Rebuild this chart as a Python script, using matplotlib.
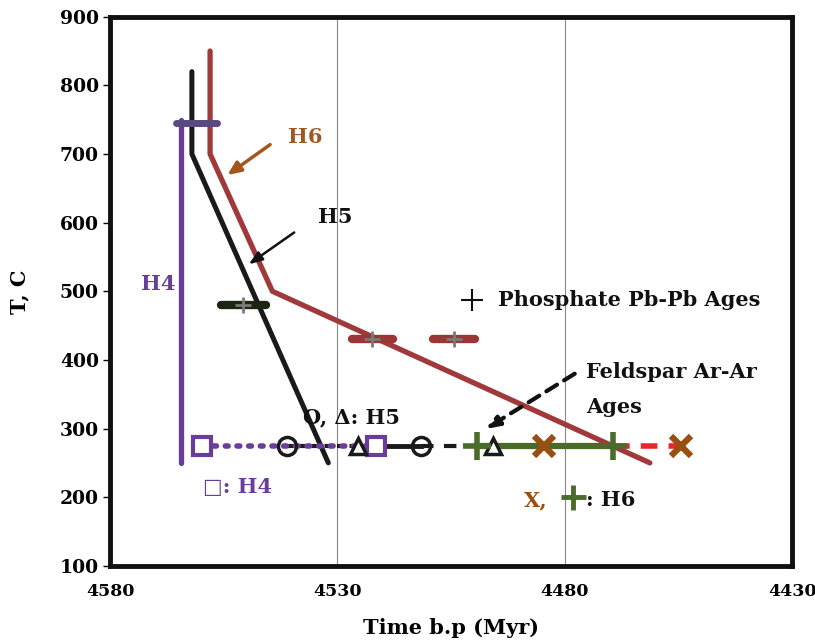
import matplotlib
matplotlib.use("Agg")
import matplotlib.pyplot as plt

plt.rcParams['font.family'] = ['DejaVu Serif', 'DejaVu Sans']
plt.rcParams['font.weight'] = 'bold'

# Cooling paths (time b.p. in Myr, temperature in C)
h4_time = [4564.4, 4564.4]
h4_temp = [750, 250]
h5_time = [4562, 4562, 4532]
h5_temp = [820, 700, 250]
h6_time = [4558, 4558, 4544.3, 4461.3]
h6_temp = [850, 700, 500, 250]

# H4 high-temperature age bar
h4_bar_time = 4561
h4_bar_err = 4.6
h4_bar_temp = 745

# Phosphate Pb-Pb ages
pb_time = [4550.7, 4522.3, 4504.4]
pb_err = [5.0, 4.5, 4.6]
pb_temp = [480, 430, 430]
pb_colors = ['#1c2412', '#9c3535', '#9c3535']

# Feldspar Ar-Ar ages
ar_temp = 275
h4_sq_time = [4559.7, 4521.6]
h5_circ_time = [4541.0, 4511.7]
h5_tri_time = [4525.4, 4495.8]
h6_plus_time = [4499.2, 4469.4]
h6_x_time = [4484.6, 4454.4]

C_PURPLE = '#6a3d9a'
C_BAR = '#5a4a82'
C_H6 = '#a03a3a'
C_GREEN = '#4b6b2a'
C_XBROWN = '#9a4f12'
C_RED = '#e8262c'
C_TXT6 = '#a3561e'
C_INK = '#111111'

FS = 15

fig = plt.figure(figsize=(8.15, 6.43), dpi=100)
ax = fig.add_axes([0.135, 0.12, 0.837, 0.854])

ax.set_xlim(4580, 4430)
ax.set_ylim(100, 900)
ax.set_xticks([4580, 4530, 4480, 4430])
ax.set_yticks(range(100, 1000, 100))
for xv in [4530, 4480]:
    ax.axvline(xv, color='#888888', lw=0.8, zorder=0)
for s in ax.spines.values():
    s.set_linewidth(3.5)
    s.set_color(C_INK)
ax.tick_params(axis='y', direction='out', length=5, width=1, labelsize=13.5, pad=3)
ax.tick_params(axis='x', length=0, labelsize=12.5, pad=12)
for lab in ax.get_xticklabels() + ax.get_yticklabels():
    lab.set_fontweight('bold')
ax.set_ylabel('T, C', fontsize=FS, fontweight='bold')
ax.yaxis.set_label_coords(-0.118, 0.5)
ax.set_xlabel('Time b.p (Myr)', fontsize=FS, fontweight='bold', labelpad=13)

# Cooling curves
ax.plot(h4_time, h4_temp, color=C_PURPLE, lw=3.8, solid_capstyle='round', zorder=3)
ax.plot(h5_time, h5_temp, color='#1a1a1a', lw=3.6, solid_capstyle='round', zorder=3)
ax.plot(h6_time, h6_temp, color=C_H6, lw=3.8, solid_capstyle='round', zorder=3)

# H4 age bar
ax.plot([h4_bar_time - h4_bar_err, h4_bar_time + h4_bar_err], [h4_bar_temp] * 2,
        color=C_BAR, lw=5, solid_capstyle='round', zorder=4)

# Phosphate ages
for t, e, T, c in zip(pb_time, pb_err, pb_temp, pb_colors):
    ax.plot([t - e, t + e], [T, T], color=c, lw=6, solid_capstyle='round', zorder=4)
    ax.plot(t, T, marker='+', ms=12, mew=2, color='#7a7a7a', zorder=5)

# Feldspar ages: connecting lines
ax.plot([h4_sq_time[0], h4_sq_time[1]], [ar_temp] * 2, color=C_PURPLE, lw=4,
        ls=(0, (0.5, 1.6)), dash_capstyle='round', zorder=5)
ax.plot([h5_circ_time[0], h4_sq_time[1]], [ar_temp] * 2, color='#1a1a1a', lw=3,
        ls=(0, (1.5, 1.5)), zorder=4)
ax.plot([h4_sq_time[1], h5_circ_time[1]], [ar_temp] * 2, color='#1a1a1a', lw=3.5, zorder=4)
ax.plot([h5_circ_time[1], h6_plus_time[0]], [ar_temp] * 2, color='#1a1a1a', lw=3,
        ls=(0, (3, 2.5)), zorder=4)
ax.plot(h6_plus_time, [ar_temp] * 2, color=C_GREEN, lw=4.5, zorder=4)
ax.plot([h6_plus_time[1], h6_x_time[1]], [ar_temp] * 2, color=C_RED, lw=4,
        ls=(0, (3, 2)), zorder=4)

# Feldspar ages: markers
ax.plot(h4_sq_time, [ar_temp] * 2, ls='none', marker='s', ms=13, mfc='white',
        mec=C_PURPLE, mew=3, zorder=6)
ax.plot(h5_circ_time, [ar_temp] * 2, ls='none', marker='o', ms=13, mfc='none',
        mec='#1a1a1a', mew=2.5, zorder=6)
ax.plot(h5_tri_time, [ar_temp] * 2, ls='none', marker='^', ms=12, mfc='white',
        mec='#1a1a1a', mew=2.5, zorder=6)
ax.plot(h6_plus_time, [ar_temp] * 2, ls='none', marker='+', ms=20, mew=4,
        color=C_GREEN, zorder=6)
ax.plot(h6_x_time, [ar_temp] * 2, ls='none', marker='x', ms=15, mew=4.5,
        color=C_XBROWN, zorder=6)

# Labels and arrows
ax.text(4537.0, 725, 'H6', color=C_TXT6, fontsize=FS, fontweight='bold', va='center', ha='center')
ax.annotate('', xy=(4554.7, 667), xytext=(4544.3, 716),
            arrowprops=dict(arrowstyle='-|>,head_length=0.8,head_width=0.35', color=C_TXT6, lw=2.5))
ax.text(4530.4, 608, 'H5', color=C_INK, fontsize=FS, fontweight='bold', va='center', ha='center')
ax.annotate('', xy=(4550, 537), xytext=(4539, 588),
            arrowprops=dict(arrowstyle='-|>,head_length=0.8,head_width=0.3', color=C_INK, lw=1.8))
ax.text(4569.4, 511, 'H4', color=C_PURPLE, fontsize=FS, fontweight='bold', va='center', ha='center')

ax.plot(4500.3, 487, marker='+', ms=16, mew=1.5, color=C_INK)
ax.text(4494.7, 487, 'Phosphate Pb-Pb Ages', color=C_INK, fontsize=FS,
        fontweight='bold', va='center', ha='left')

ax.text(4475.4, 383, 'Feldspar Ar-Ar', color=C_INK, fontsize=FS,
        fontweight='bold', va='center', ha='left')
ax.text(4475.4, 331, 'Ages', color=C_INK, fontsize=FS,
        fontweight='bold', va='center', ha='left')
ax.annotate('', xy=(4498, 297), xytext=(4477.3, 382),
            arrowprops=dict(arrowstyle='-|>,head_length=0.8,head_width=0.3', color=C_INK,
                            lw=3, ls=(0, (3, 2))))

ax.text(4537.5, 317, 'O, Δ: H5', color=C_INK, fontsize=FS, fontweight='bold',
        va='center', ha='left')
ax.text(4559.5, 215, '□: H4', color=C_PURPLE, fontsize=FS, fontweight='bold',
        va='center', ha='left')
ax.text(4489, 196, 'X,', color=C_XBROWN, fontsize=FS, fontweight='bold', va='center', ha='left')
ax.plot(4478.2, 200, marker='+', ms=18, mew=3.5, color=C_GREEN)
ax.text(4475.4, 196, ': H6', color=C_INK, fontsize=FS, fontweight='bold',
        va='center', ha='left')

fig.savefig('out.png', dpi=100)
